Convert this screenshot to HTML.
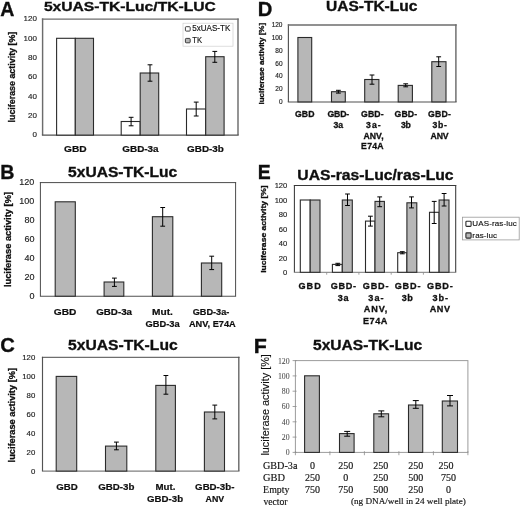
<!DOCTYPE html>
<html><head><meta charset="utf-8"><title>Figure</title>
<style>html,body{margin:0;padding:0;background:#fff}svg{display:block}</style></head>
<body>
<svg width="520" height="507" viewBox="0 0 520 507">
<defs><filter id="soft" x="0" y="0" width="520" height="507" filterUnits="userSpaceOnUse"><feGaussianBlur stdDeviation="0.42"/></filter></defs>
<rect width="520" height="507" fill="#fff"/>
<g filter="url(#soft)">
<rect width="520" height="507" fill="#fff"/>
<text x="0.31" y="16.10" font-family="'Liberation Sans', sans-serif" font-size="20.6" font-weight="bold" fill="#111" stroke="#111" stroke-width="0.35" textLength="14.10" lengthAdjust="spacingAndGlyphs">A</text>
<text x="43.92" y="11.30" font-family="'Liberation Sans', sans-serif" font-size="13.4" font-weight="bold" fill="#111" stroke="#111" stroke-width="0.35" textLength="171.91" lengthAdjust="spacingAndGlyphs">5xUAS-TK-Luc/TK-LUC</text>
<rect x="42.6" y="19.1" width="195.4" height="116.0" fill="#fff"/>
<path d="M42.6 135.1V18.38" fill="none" stroke="#6c6c6c" stroke-width="1.45"/>
<path d="M238.0 135.1V18.38" fill="none" stroke="#6c6c6c" stroke-width="1.45"/>
<path d="M41.88 19.1H238.72" fill="none" stroke="#6c6c6c" stroke-width="1.45"/>
<path d="M41.88 135.1H238.72" fill="none" stroke="#505050" stroke-width="1.05"/>
<text x="36.90" y="137.25" font-family="'Liberation Sans', sans-serif" font-size="8" font-weight="normal" fill="#222" stroke="#222" stroke-width="0.15" text-anchor="end">0</text>
<text x="36.90" y="117.92" font-family="'Liberation Sans', sans-serif" font-size="8" font-weight="normal" fill="#222" stroke="#222" stroke-width="0.15" text-anchor="end">20</text>
<text x="36.90" y="98.59" font-family="'Liberation Sans', sans-serif" font-size="8" font-weight="normal" fill="#222" stroke="#222" stroke-width="0.15" text-anchor="end">40</text>
<text x="36.90" y="79.25" font-family="'Liberation Sans', sans-serif" font-size="8" font-weight="normal" fill="#222" stroke="#222" stroke-width="0.15" text-anchor="end">60</text>
<text x="36.90" y="59.92" font-family="'Liberation Sans', sans-serif" font-size="8" font-weight="normal" fill="#222" stroke="#222" stroke-width="0.15" text-anchor="end">80</text>
<text x="36.90" y="40.59" font-family="'Liberation Sans', sans-serif" font-size="8" font-weight="normal" fill="#222" stroke="#222" stroke-width="0.15" text-anchor="end">100</text>
<text x="36.90" y="21.25" font-family="'Liberation Sans', sans-serif" font-size="8" font-weight="normal" fill="#222" stroke="#222" stroke-width="0.15" text-anchor="end">120</text>
<text transform="translate(15.0,122.5) rotate(-90)" x="0" y="0" font-family="'Liberation Sans', sans-serif" font-size="8.2" font-weight="bold" fill="#111" stroke="#111" stroke-width="0.3" textLength="90.8" lengthAdjust="spacingAndGlyphs">luciferase activity [%]</text>
<rect x="56.6" y="38.3" width="18.7" height="96.8" fill="#fff" stroke="#2b2b2b" stroke-width="1.1"/>
<rect x="75.3" y="38.3" width="18.2" height="96.8" fill="#b7b7b7" stroke="#2b2b2b" stroke-width="1.1"/>
<rect x="121.2" y="121.5" width="19.0" height="13.6" fill="#fff" stroke="#2b2b2b" stroke-width="1.1"/>
<rect x="140.2" y="73.0" width="18.5" height="62.1" fill="#b7b7b7" stroke="#2b2b2b" stroke-width="1.1"/>
<rect x="186.5" y="109.0" width="19.2" height="26.1" fill="#fff" stroke="#2b2b2b" stroke-width="1.1"/>
<rect x="205.7" y="56.7" width="18.4" height="78.4" fill="#b7b7b7" stroke="#2b2b2b" stroke-width="1.1"/>
<path d="M131.1 117.3V125.8M128.7 117.3H133.5M128.7 125.8H133.5" fill="none" stroke="#000" stroke-width="1.0"/>
<path d="M150.0 64.8V81.2M147.6 64.8H152.4M147.6 81.2H152.4" fill="none" stroke="#000" stroke-width="1.0"/>
<path d="M196.2 102.1V116.0M193.8 102.1H198.6M193.8 116.0H198.6" fill="none" stroke="#000" stroke-width="1.0"/>
<path d="M214.8 51.4V62.3M212.4 51.4H217.2M212.4 62.3H217.2" fill="none" stroke="#000" stroke-width="1.0"/>
<text x="64.08" y="152.00" font-family="'Liberation Sans', sans-serif" font-size="9.6" font-weight="bold" fill="#111" stroke="#111" stroke-width="0.22" textLength="22.54" lengthAdjust="spacingAndGlyphs">GBD</text>
<text x="122.39" y="152.00" font-family="'Liberation Sans', sans-serif" font-size="9.6" font-weight="bold" fill="#111" stroke="#111" stroke-width="0.22" textLength="36.24" lengthAdjust="spacingAndGlyphs">GBD-3a</text>
<text x="187.10" y="152.00" font-family="'Liberation Sans', sans-serif" font-size="9.6" font-weight="bold" fill="#111" stroke="#111" stroke-width="0.22" textLength="36.71" lengthAdjust="spacingAndGlyphs">GBD-3b</text>
<rect x="183.0" y="23.2" width="50.0" height="23.0" fill="#fff" stroke="#cfcfcf" stroke-width="0.7"/>
<rect x="185.4" y="26.7" width="4.8" height="4.4" rx="0.8" fill="#fff" stroke="#2b2b2b" stroke-width="0.9"/>
<rect x="185.4" y="38.4" width="4.8" height="4.4" rx="0.8" fill="#b7b7b7" stroke="#2b2b2b" stroke-width="0.9"/>
<text x="192.18" y="30.92" font-family="'Liberation Sans', sans-serif" font-size="8.5" font-weight="normal" fill="#111" stroke="#111" stroke-width="0.15" textLength="38.11" lengthAdjust="spacingAndGlyphs">5xUAS-TK</text>
<text x="192.33" y="42.72" font-family="'Liberation Sans', sans-serif" font-size="8.5" font-weight="normal" fill="#111" stroke="#111" stroke-width="0.15" textLength="9.76" lengthAdjust="spacingAndGlyphs">TK</text>
<text x="0.28" y="179.40" font-family="'Liberation Sans', sans-serif" font-size="20.8" font-weight="bold" fill="#111" stroke="#111" stroke-width="0.35" textLength="14.21" lengthAdjust="spacingAndGlyphs">B</text>
<text x="68.12" y="176.90" font-family="'Liberation Sans', sans-serif" font-size="14.6" font-weight="bold" fill="#111" stroke="#111" stroke-width="0.35" textLength="109.14" lengthAdjust="spacingAndGlyphs">5xUAS-TK-Luc</text>
<rect x="40.4" y="182.6" width="195.2" height="113.6" fill="#fff"/>
<path d="M40.4 296.2V182.10" fill="none" stroke="#4a4a4a" stroke-width="1.0"/>
<path d="M235.6 296.2V182.10" fill="none" stroke="#4a4a4a" stroke-width="1.0"/>
<path d="M39.90 182.6H236.10" fill="none" stroke="#4a4a4a" stroke-width="1.0"/>
<path d="M39.90 296.2H236.10" fill="none" stroke="#505050" stroke-width="1.05"/>
<text x="34.40" y="298.50" font-family="'Liberation Sans', sans-serif" font-size="9" font-weight="normal" fill="#222" stroke="#222" stroke-width="0.15" text-anchor="end">0</text>
<text x="34.40" y="279.56" font-family="'Liberation Sans', sans-serif" font-size="9" font-weight="normal" fill="#222" stroke="#222" stroke-width="0.15" text-anchor="end">20</text>
<text x="34.40" y="260.63" font-family="'Liberation Sans', sans-serif" font-size="9" font-weight="normal" fill="#222" stroke="#222" stroke-width="0.15" text-anchor="end">40</text>
<text x="34.40" y="241.70" font-family="'Liberation Sans', sans-serif" font-size="9" font-weight="normal" fill="#222" stroke="#222" stroke-width="0.15" text-anchor="end">60</text>
<text x="34.40" y="222.76" font-family="'Liberation Sans', sans-serif" font-size="9" font-weight="normal" fill="#222" stroke="#222" stroke-width="0.15" text-anchor="end">80</text>
<text x="34.40" y="203.83" font-family="'Liberation Sans', sans-serif" font-size="9" font-weight="normal" fill="#222" stroke="#222" stroke-width="0.15" text-anchor="end">100</text>
<text x="34.40" y="184.90" font-family="'Liberation Sans', sans-serif" font-size="9" font-weight="normal" fill="#222" stroke="#222" stroke-width="0.15" text-anchor="end">120</text>
<text transform="translate(10.5,287.1) rotate(-90)" x="0" y="0" font-family="'Liberation Sans', sans-serif" font-size="8.4" font-weight="bold" fill="#111" stroke="#111" stroke-width="0.3" textLength="95.1" lengthAdjust="spacingAndGlyphs">luciferase activity [%]</text>
<rect x="55.2" y="201.8" width="20.1" height="94.4" fill="#b7b7b7" stroke="#2b2b2b" stroke-width="1.1"/>
<rect x="104.1" y="282.0" width="19.7" height="14.2" fill="#b7b7b7" stroke="#2b2b2b" stroke-width="1.1"/>
<rect x="152.4" y="216.7" width="20.4" height="79.5" fill="#b7b7b7" stroke="#2b2b2b" stroke-width="1.1"/>
<rect x="201.4" y="263.0" width="20.3" height="33.2" fill="#b7b7b7" stroke="#2b2b2b" stroke-width="1.1"/>
<path d="M114.4 278.1V286.4M112.0 278.1H116.8M112.0 286.4H116.8" fill="none" stroke="#000" stroke-width="1.0"/>
<path d="M162.7 207.5V226.2M160.3 207.5H165.1M160.3 226.2H165.1" fill="none" stroke="#000" stroke-width="1.0"/>
<path d="M211.7 256.2V269.6M209.3 256.2H214.1M209.3 269.6H214.1" fill="none" stroke="#000" stroke-width="1.0"/>
<text x="53.78" y="314.50" font-family="'Liberation Sans', sans-serif" font-size="9.3" font-weight="bold" fill="#111" stroke="#111" stroke-width="0.22" textLength="22.54" lengthAdjust="spacingAndGlyphs">GBD</text>
<text x="96.20" y="314.50" font-family="'Liberation Sans', sans-serif" font-size="9.3" font-weight="bold" fill="#111" stroke="#111" stroke-width="0.22" textLength="35.84" lengthAdjust="spacingAndGlyphs">GBD-3a</text>
<text x="152.12" y="314.50" font-family="'Liberation Sans', sans-serif" font-size="9.3" font-weight="bold" fill="#111" stroke="#111" stroke-width="0.22" textLength="20.77" lengthAdjust="spacingAndGlyphs">Mut.</text>
<text x="145.52" y="327.00" font-family="'Liberation Sans', sans-serif" font-size="9.3" font-weight="bold" fill="#111" stroke="#111" stroke-width="0.22" textLength="34.12" lengthAdjust="spacingAndGlyphs">GBD-3a</text>
<text x="192.72" y="314.50" font-family="'Liberation Sans', sans-serif" font-size="9.3" font-weight="bold" fill="#111" stroke="#111" stroke-width="0.22" textLength="36.64" lengthAdjust="spacingAndGlyphs">GBD-3a-</text>
<text x="188.97" y="327.00" font-family="'Liberation Sans', sans-serif" font-size="9.3" font-weight="bold" fill="#111" stroke="#111" stroke-width="0.22" textLength="46.76" lengthAdjust="spacingAndGlyphs">ANV, E74A</text>
<text x="0.17" y="352.00" font-family="'Liberation Sans', sans-serif" font-size="20.8" font-weight="bold" fill="#111" stroke="#111" stroke-width="0.35" textLength="14.58" lengthAdjust="spacingAndGlyphs">C</text>
<text x="68.12" y="350.00" font-family="'Liberation Sans', sans-serif" font-size="15.3" font-weight="bold" fill="#111" stroke="#111" stroke-width="0.35" textLength="109.54" lengthAdjust="spacingAndGlyphs">5xUAS-TK-Luc</text>
<rect x="42.5" y="357.3" width="196.3" height="113.8" fill="#fff"/>
<path d="M42.5 471.1V356.80" fill="none" stroke="#525252" stroke-width="1.15"/>
<path d="M238.8 471.1V356.80" fill="none" stroke="#6c6c6c" stroke-width="1.45"/>
<path d="M41.92 357.3H239.53" fill="none" stroke="#4a4a4a" stroke-width="1.0"/>
<path d="M41.92 471.1H239.53" fill="none" stroke="#5e5e5e" stroke-width="1.0"/>
<text x="35.30" y="473.88" font-family="'Liberation Sans', sans-serif" font-size="7.8" font-weight="normal" fill="#222" stroke="#222" stroke-width="0.15" text-anchor="end">0</text>
<text x="35.30" y="454.85" font-family="'Liberation Sans', sans-serif" font-size="7.8" font-weight="normal" fill="#222" stroke="#222" stroke-width="0.15" text-anchor="end">20</text>
<text x="35.30" y="435.82" font-family="'Liberation Sans', sans-serif" font-size="7.8" font-weight="normal" fill="#222" stroke="#222" stroke-width="0.15" text-anchor="end">40</text>
<text x="35.30" y="416.78" font-family="'Liberation Sans', sans-serif" font-size="7.8" font-weight="normal" fill="#222" stroke="#222" stroke-width="0.15" text-anchor="end">60</text>
<text x="35.30" y="397.75" font-family="'Liberation Sans', sans-serif" font-size="7.8" font-weight="normal" fill="#222" stroke="#222" stroke-width="0.15" text-anchor="end">80</text>
<text x="35.30" y="378.72" font-family="'Liberation Sans', sans-serif" font-size="7.8" font-weight="normal" fill="#222" stroke="#222" stroke-width="0.15" text-anchor="end">100</text>
<text x="35.30" y="359.68" font-family="'Liberation Sans', sans-serif" font-size="7.8" font-weight="normal" fill="#222" stroke="#222" stroke-width="0.15" text-anchor="end">120</text>
<text transform="translate(14.8,462.4) rotate(-90)" x="0" y="0" font-family="'Liberation Sans', sans-serif" font-size="8.4" font-weight="bold" fill="#111" stroke="#111" stroke-width="0.3" textLength="94.4" lengthAdjust="spacingAndGlyphs">luciferase activity [%]</text>
<rect x="56.2" y="376.4" width="20.5" height="94.7" fill="#b7b7b7" stroke="#2b2b2b" stroke-width="1.1"/>
<rect x="105.5" y="446.1" width="21.3" height="25.0" fill="#b7b7b7" stroke="#2b2b2b" stroke-width="1.1"/>
<rect x="155.8" y="385.4" width="19.6" height="85.7" fill="#b7b7b7" stroke="#2b2b2b" stroke-width="1.1"/>
<rect x="204.4" y="412.0" width="20.1" height="59.1" fill="#b7b7b7" stroke="#2b2b2b" stroke-width="1.1"/>
<path d="M116.4 442.1V449.8M114.0 442.1H118.8M114.0 449.8H118.8" fill="none" stroke="#000" stroke-width="1.0"/>
<path d="M165.9 375.5V394.2M163.5 375.5H168.3M163.5 394.2H168.3" fill="none" stroke="#000" stroke-width="1.0"/>
<path d="M214.8 405.1V418.9M212.4 405.1H217.2M212.4 418.9H217.2" fill="none" stroke="#000" stroke-width="1.0"/>
<text x="56.20" y="489.67" font-family="'Liberation Sans', sans-serif" font-size="9.5" font-weight="bold" fill="#111" stroke="#111" stroke-width="0.22" textLength="21.50" lengthAdjust="spacingAndGlyphs">GBD</text>
<text x="98.20" y="489.67" font-family="'Liberation Sans', sans-serif" font-size="9.5" font-weight="bold" fill="#111" stroke="#111" stroke-width="0.22" textLength="36.30" lengthAdjust="spacingAndGlyphs">GBD-3b</text>
<text x="155.55" y="489.67" font-family="'Liberation Sans', sans-serif" font-size="9.5" font-weight="bold" fill="#111" stroke="#111" stroke-width="0.22" textLength="19.92" lengthAdjust="spacingAndGlyphs">Mut.</text>
<text x="147.10" y="502.07" font-family="'Liberation Sans', sans-serif" font-size="9.5" font-weight="bold" fill="#111" stroke="#111" stroke-width="0.22" textLength="35.99" lengthAdjust="spacingAndGlyphs">GBD-3b</text>
<text x="195.10" y="489.67" font-family="'Liberation Sans', sans-serif" font-size="9.5" font-weight="bold" fill="#111" stroke="#111" stroke-width="0.22" textLength="39.29" lengthAdjust="spacingAndGlyphs">GBD-3b-</text>
<text x="205.58" y="502.07" font-family="'Liberation Sans', sans-serif" font-size="9.5" font-weight="bold" fill="#111" stroke="#111" stroke-width="0.22" textLength="18.58" lengthAdjust="spacingAndGlyphs">ANV</text>
<text x="257.75" y="15.90" font-family="'Liberation Sans', sans-serif" font-size="20.8" font-weight="bold" fill="#111" stroke="#111" stroke-width="0.35" textLength="14.60" lengthAdjust="spacingAndGlyphs">D</text>
<text x="325.97" y="11.10" font-family="'Liberation Sans', sans-serif" font-size="14" font-weight="bold" fill="#111" stroke="#111" stroke-width="0.35" textLength="91.39" lengthAdjust="spacingAndGlyphs">UAS-TK-Luc</text>
<rect x="288.4" y="24.9" width="167.5" height="77.0" fill="#fff"/>
<path d="M288.4 101.9V24.17" fill="none" stroke="#525252" stroke-width="1.15"/>
<path d="M455.9 101.9V24.17" fill="none" stroke="#6c6c6c" stroke-width="1.45"/>
<path d="M287.82 24.9H456.62" fill="none" stroke="#6c6c6c" stroke-width="1.45"/>
<path d="M287.82 101.9H456.62" fill="none" stroke="#505050" stroke-width="1.05"/>
<text x="282.50" y="104.14" font-family="'Liberation Sans', sans-serif" font-size="6.5" font-weight="normal" fill="#222" stroke="#222" stroke-width="0.15" text-anchor="end">0</text>
<text x="282.50" y="91.30" font-family="'Liberation Sans', sans-serif" font-size="6.5" font-weight="normal" fill="#222" stroke="#222" stroke-width="0.15" text-anchor="end">20</text>
<text x="282.50" y="78.47" font-family="'Liberation Sans', sans-serif" font-size="6.5" font-weight="normal" fill="#222" stroke="#222" stroke-width="0.15" text-anchor="end">40</text>
<text x="282.50" y="65.64" font-family="'Liberation Sans', sans-serif" font-size="6.5" font-weight="normal" fill="#222" stroke="#222" stroke-width="0.15" text-anchor="end">60</text>
<text x="282.50" y="52.80" font-family="'Liberation Sans', sans-serif" font-size="6.5" font-weight="normal" fill="#222" stroke="#222" stroke-width="0.15" text-anchor="end">80</text>
<text x="282.50" y="39.97" font-family="'Liberation Sans', sans-serif" font-size="6.5" font-weight="normal" fill="#222" stroke="#222" stroke-width="0.15" text-anchor="end">100</text>
<text x="282.50" y="27.14" font-family="'Liberation Sans', sans-serif" font-size="6.5" font-weight="normal" fill="#222" stroke="#222" stroke-width="0.15" text-anchor="end">120</text>
<text transform="translate(263.5,104.5) rotate(-90)" x="0" y="0" font-family="'Liberation Sans', sans-serif" font-size="7.6" font-weight="bold" fill="#111" stroke="#111" stroke-width="0.3" textLength="81.6" lengthAdjust="spacingAndGlyphs">luciferase activity [%]</text>
<rect x="297.9" y="37.5" width="13.8" height="64.4" fill="#b7b7b7" stroke="#2b2b2b" stroke-width="1.1"/>
<rect x="331.5" y="91.7" width="13.8" height="10.2" fill="#b7b7b7" stroke="#2b2b2b" stroke-width="1.1"/>
<rect x="364.7" y="79.5" width="14.2" height="22.4" fill="#b7b7b7" stroke="#2b2b2b" stroke-width="1.1"/>
<rect x="398.2" y="85.4" width="14.2" height="16.5" fill="#b7b7b7" stroke="#2b2b2b" stroke-width="1.1"/>
<rect x="431.8" y="61.7" width="14.2" height="40.2" fill="#b7b7b7" stroke="#2b2b2b" stroke-width="1.1"/>
<path d="M338.4 90.3V93.1M336.0 90.3H340.8M336.0 93.1H340.8" fill="none" stroke="#000" stroke-width="1.0"/>
<path d="M372.0 75.0V84.2M369.6 75.0H374.4M369.6 84.2H374.4" fill="none" stroke="#000" stroke-width="1.0"/>
<path d="M405.7 83.8V86.8M403.3 83.8H408.1M403.3 86.8H408.1" fill="none" stroke="#000" stroke-width="1.0"/>
<path d="M438.7 56.8V66.5M436.3 56.8H441.1M436.3 66.5H441.1" fill="none" stroke="#000" stroke-width="1.0"/>
<text x="295.04" y="117.39" font-family="'Liberation Sans', sans-serif" font-size="8.7" font-weight="bold" fill="#111" stroke="#111" stroke-width="0.3" letter-spacing="0.04">GBD</text>
<text x="327.54" y="117.39" font-family="'Liberation Sans', sans-serif" font-size="8.7" font-weight="bold" fill="#111" stroke="#111" stroke-width="0.3" letter-spacing="-0.17">GBD-</text>
<text x="333.60" y="127.89" font-family="'Liberation Sans', sans-serif" font-size="8.7" font-weight="bold" fill="#111" stroke="#111" stroke-width="0.3" letter-spacing="-0.23">3a</text>
<text x="360.94" y="117.39" font-family="'Liberation Sans', sans-serif" font-size="8.7" font-weight="bold" fill="#111" stroke="#111" stroke-width="0.3" letter-spacing="0.19">GBD-</text>
<text x="366.00" y="127.89" font-family="'Liberation Sans', sans-serif" font-size="8.7" font-weight="bold" fill="#111" stroke="#111" stroke-width="0.3" letter-spacing="1.09">3a-</text>
<text x="363.48" y="138.59" font-family="'Liberation Sans', sans-serif" font-size="8.7" font-weight="bold" fill="#111" stroke="#111" stroke-width="0.3" letter-spacing="0.04">ANV,</text>
<text x="361.12" y="149.39" font-family="'Liberation Sans', sans-serif" font-size="8.7" font-weight="bold" fill="#111" stroke="#111" stroke-width="0.3" letter-spacing="0.25">E74A</text>
<text x="394.44" y="117.39" font-family="'Liberation Sans', sans-serif" font-size="8.7" font-weight="bold" fill="#111" stroke="#111" stroke-width="0.3" letter-spacing="0.19">GBD-</text>
<text x="400.90" y="127.89" font-family="'Liberation Sans', sans-serif" font-size="8.7" font-weight="bold" fill="#111" stroke="#111" stroke-width="0.3" letter-spacing="-0.30">3b</text>
<text x="427.94" y="117.39" font-family="'Liberation Sans', sans-serif" font-size="8.7" font-weight="bold" fill="#111" stroke="#111" stroke-width="0.3" letter-spacing="0.26">GBD-</text>
<text x="432.60" y="127.89" font-family="'Liberation Sans', sans-serif" font-size="8.7" font-weight="bold" fill="#111" stroke="#111" stroke-width="0.3" letter-spacing="0.65">3b-</text>
<text x="430.58" y="138.59" font-family="'Liberation Sans', sans-serif" font-size="8.7" font-weight="bold" fill="#111" stroke="#111" stroke-width="0.3" letter-spacing="-0.15">ANV</text>
<text x="257.80" y="179.20" font-family="'Liberation Sans', sans-serif" font-size="21" font-weight="bold" fill="#111" stroke="#111" stroke-width="0.35" textLength="12.96" lengthAdjust="spacingAndGlyphs">E</text>
<text x="297.36" y="180.40" font-family="'Liberation Sans', sans-serif" font-size="14.9" font-weight="bold" fill="#111" stroke="#111" stroke-width="0.35" textLength="156.20" lengthAdjust="spacingAndGlyphs">UAS-ras-Luc/ras-Luc</text>
<rect x="294.4" y="185.4" width="161.3" height="86.9" fill="#fff"/>
<path d="M294.4 272.3V184.88" fill="none" stroke="#383838" stroke-width="1.05"/>
<path d="M455.7 272.3V184.88" fill="none" stroke="#383838" stroke-width="1.05"/>
<path d="M293.88 185.4H456.22" fill="none" stroke="#383838" stroke-width="1.05"/>
<path d="M293.88 272.3H456.22" fill="none" stroke="#7a7a7a" stroke-width="1.0"/>
<path d="M326.7 272.3v2.4M358.9 272.3v2.4M391.2 272.3v2.4M423.4 272.3v2.4" fill="none" stroke="#8a8a8a" stroke-width="0.8"/>
<text x="287.30" y="275.31" font-family="'Liberation Sans', sans-serif" font-size="7.6" font-weight="normal" fill="#222" stroke="#222" stroke-width="0.15" text-anchor="end">0</text>
<text x="287.30" y="260.83" font-family="'Liberation Sans', sans-serif" font-size="7.6" font-weight="normal" fill="#222" stroke="#222" stroke-width="0.15" text-anchor="end">20</text>
<text x="287.30" y="246.35" font-family="'Liberation Sans', sans-serif" font-size="7.6" font-weight="normal" fill="#222" stroke="#222" stroke-width="0.15" text-anchor="end">40</text>
<text x="287.30" y="231.86" font-family="'Liberation Sans', sans-serif" font-size="7.6" font-weight="normal" fill="#222" stroke="#222" stroke-width="0.15" text-anchor="end">60</text>
<text x="287.30" y="217.38" font-family="'Liberation Sans', sans-serif" font-size="7.6" font-weight="normal" fill="#222" stroke="#222" stroke-width="0.15" text-anchor="end">80</text>
<text x="287.30" y="202.90" font-family="'Liberation Sans', sans-serif" font-size="7.6" font-weight="normal" fill="#222" stroke="#222" stroke-width="0.15" text-anchor="end">100</text>
<text x="287.30" y="188.41" font-family="'Liberation Sans', sans-serif" font-size="7.6" font-weight="normal" fill="#222" stroke="#222" stroke-width="0.15" text-anchor="end">120</text>
<text transform="translate(266.0,272.8) rotate(-90)" x="0" y="0" font-family="'Liberation Sans', sans-serif" font-size="7.9" font-weight="bold" fill="#111" stroke="#111" stroke-width="0.3" textLength="87.5" lengthAdjust="spacingAndGlyphs">luciferase activity [%]</text>
<rect x="300.3" y="200.0" width="9.9" height="72.3" fill="#fff" stroke="#2b2b2b" stroke-width="1.1"/>
<rect x="310.2" y="200.0" width="9.8" height="72.3" fill="#b7b7b7" stroke="#2b2b2b" stroke-width="1.1"/>
<rect x="332.4" y="264.4" width="9.9" height="7.9" fill="#fff" stroke="#2b2b2b" stroke-width="1.1"/>
<rect x="342.3" y="200.0" width="10.0" height="72.3" fill="#b7b7b7" stroke="#2b2b2b" stroke-width="1.1"/>
<rect x="365.5" y="221.1" width="9.5" height="51.2" fill="#fff" stroke="#2b2b2b" stroke-width="1.1"/>
<rect x="375.0" y="201.4" width="9.4" height="70.9" fill="#b7b7b7" stroke="#2b2b2b" stroke-width="1.1"/>
<rect x="397.7" y="252.7" width="9.2" height="19.6" fill="#fff" stroke="#2b2b2b" stroke-width="1.1"/>
<rect x="406.9" y="202.8" width="9.9" height="69.5" fill="#b7b7b7" stroke="#2b2b2b" stroke-width="1.1"/>
<rect x="429.5" y="212.3" width="9.6" height="60.0" fill="#fff" stroke="#2b2b2b" stroke-width="1.1"/>
<rect x="439.1" y="200.0" width="9.9" height="72.3" fill="#b7b7b7" stroke="#2b2b2b" stroke-width="1.1"/>
<path d="M337.8 263.3V265.6M335.4 263.3H340.2M335.4 265.6H340.2" fill="none" stroke="#000" stroke-width="1.0"/>
<path d="M347.5 194.0V205.5M345.1 194.0H349.9M345.1 205.5H349.9" fill="none" stroke="#000" stroke-width="1.0"/>
<path d="M370.4 216.2V226.1M368.0 216.2H372.8M368.0 226.1H372.8" fill="none" stroke="#000" stroke-width="1.0"/>
<path d="M379.7 196.9V206.7M377.3 196.9H382.1M377.3 206.7H382.1" fill="none" stroke="#000" stroke-width="1.0"/>
<path d="M402.3 251.7V253.8M399.9 251.7H404.7M399.9 253.8H404.7" fill="none" stroke="#000" stroke-width="1.0"/>
<path d="M411.5 196.9V207.9M409.1 196.9H413.9M409.1 207.9H413.9" fill="none" stroke="#000" stroke-width="1.0"/>
<path d="M434.2 201.4V223.5M431.8 201.4H436.6M431.8 223.5H436.6" fill="none" stroke="#000" stroke-width="1.0"/>
<path d="M444.1 193.5V206.0M441.7 193.5H446.5M441.7 206.0H446.5" fill="none" stroke="#000" stroke-width="1.0"/>
<text x="298.53" y="289.23" font-family="'Liberation Sans', sans-serif" font-size="9.1" font-weight="bold" fill="#111" stroke="#111" stroke-width="0.3" letter-spacing="1.02">GBD</text>
<text x="330.63" y="289.23" font-family="'Liberation Sans', sans-serif" font-size="9.1" font-weight="bold" fill="#111" stroke="#111" stroke-width="0.3" letter-spacing="0.70">GBD-</text>
<text x="337.69" y="300.93" font-family="'Liberation Sans', sans-serif" font-size="9.1" font-weight="bold" fill="#111" stroke="#111" stroke-width="0.3" letter-spacing="0.83">3a</text>
<text x="362.73" y="289.23" font-family="'Liberation Sans', sans-serif" font-size="9.1" font-weight="bold" fill="#111" stroke="#111" stroke-width="0.3" letter-spacing="0.86">GBD-</text>
<text x="368.29" y="300.93" font-family="'Liberation Sans', sans-serif" font-size="9.1" font-weight="bold" fill="#111" stroke="#111" stroke-width="0.3" letter-spacing="1.11">3a-</text>
<text x="363.67" y="312.13" font-family="'Liberation Sans', sans-serif" font-size="9.1" font-weight="bold" fill="#111" stroke="#111" stroke-width="0.3" letter-spacing="0.93">ANV,</text>
<text x="362.89" y="323.63" font-family="'Liberation Sans', sans-serif" font-size="9.1" font-weight="bold" fill="#111" stroke="#111" stroke-width="0.3" letter-spacing="0.60">E74A</text>
<text x="394.73" y="289.23" font-family="'Liberation Sans', sans-serif" font-size="9.1" font-weight="bold" fill="#111" stroke="#111" stroke-width="0.3" letter-spacing="0.83">GBD-</text>
<text x="401.79" y="300.93" font-family="'Liberation Sans', sans-serif" font-size="9.1" font-weight="bold" fill="#111" stroke="#111" stroke-width="0.3" letter-spacing="0.36">3b</text>
<text x="426.93" y="289.23" font-family="'Liberation Sans', sans-serif" font-size="9.1" font-weight="bold" fill="#111" stroke="#111" stroke-width="0.3" letter-spacing="0.90">GBD-</text>
<text x="432.59" y="300.93" font-family="'Liberation Sans', sans-serif" font-size="9.1" font-weight="bold" fill="#111" stroke="#111" stroke-width="0.3" letter-spacing="0.86">3b-</text>
<text x="429.67" y="312.13" font-family="'Liberation Sans', sans-serif" font-size="9.1" font-weight="bold" fill="#111" stroke="#111" stroke-width="0.3" letter-spacing="0.59">ANV</text>
<rect x="462.4" y="217.2" width="56.8" height="22.7" fill="#fff" stroke="#9a9a9a" stroke-width="0.8"/>
<rect x="465.9" y="221.2" width="5.2" height="5.2" rx="0.8" fill="#fff" stroke="#2b2b2b" stroke-width="1.1"/>
<rect x="465.9" y="232.9" width="5.2" height="5.2" rx="0.8" fill="#b7b7b7" stroke="#2b2b2b" stroke-width="1.1"/>
<text x="472.28" y="226.05" font-family="'Liberation Sans', sans-serif" font-size="8" font-weight="normal" fill="#111" stroke="#111" stroke-width="0.15" letter-spacing="0.14">UAS-ras-luc</text>
<text x="472.37" y="238.05" font-family="'Liberation Sans', sans-serif" font-size="8" font-weight="normal" fill="#111" stroke="#111" stroke-width="0.15" letter-spacing="0.12">ras-luc</text>
<text x="253.66" y="352.50" font-family="'Liberation Sans', sans-serif" font-size="20.8" font-weight="bold" fill="#111" stroke="#111" stroke-width="0.35" textLength="13.12" lengthAdjust="spacingAndGlyphs">F</text>
<text x="313.02" y="350.00" font-family="'Liberation Sans', sans-serif" font-size="14.9" font-weight="bold" fill="#111" stroke="#111" stroke-width="0.35" textLength="109.14" lengthAdjust="spacingAndGlyphs">5xUAS-TK-Luc</text>
<rect x="295.4" y="360.6" width="172.5" height="91.8" fill="#fff" stroke="#9c9c9c" stroke-width="1.0"/>
<path d="M292.6 452.4H296.6M292.6 437.1H296.6M292.6 421.8H296.6M292.6 406.5H296.6M292.6 391.2H296.6M292.6 375.9H296.6M292.6 360.6H296.6M295.4 451.2V455.2M329.9 451.2V455.2M364.4 451.2V455.2M398.9 451.2V455.2M433.4 451.2V455.2M467.9 451.2V455.2" fill="none" stroke="#8a8a8a" stroke-width="0.8"/>
<text x="289.60" y="455.35" font-family="'Liberation Serif', serif" font-size="7.8" font-weight="normal" fill="#484848" stroke="#484848" stroke-width="0.05" text-anchor="end">0</text>
<text x="289.60" y="440.05" font-family="'Liberation Serif', serif" font-size="7.8" font-weight="normal" fill="#484848" stroke="#484848" stroke-width="0.05" text-anchor="end">20</text>
<text x="289.60" y="424.75" font-family="'Liberation Serif', serif" font-size="7.8" font-weight="normal" fill="#484848" stroke="#484848" stroke-width="0.05" text-anchor="end">40</text>
<text x="289.60" y="409.45" font-family="'Liberation Serif', serif" font-size="7.8" font-weight="normal" fill="#484848" stroke="#484848" stroke-width="0.05" text-anchor="end">60</text>
<text x="289.60" y="394.15" font-family="'Liberation Serif', serif" font-size="7.8" font-weight="normal" fill="#484848" stroke="#484848" stroke-width="0.05" text-anchor="end">80</text>
<text x="289.60" y="378.85" font-family="'Liberation Serif', serif" font-size="7.8" font-weight="normal" fill="#484848" stroke="#484848" stroke-width="0.05" text-anchor="end">100</text>
<text x="289.60" y="363.55" font-family="'Liberation Serif', serif" font-size="7.8" font-weight="normal" fill="#484848" stroke="#484848" stroke-width="0.05" text-anchor="end">120</text>
<text transform="translate(269.4,455.6) rotate(-90)" x="0" y="0" font-family="'Liberation Sans', sans-serif" font-size="10.2" font-weight="normal" fill="#111" stroke="#111" stroke-width="0.12" textLength="101.5" lengthAdjust="spacingAndGlyphs">luciferase activity [%]</text>
<rect x="304.6" y="375.8" width="14.8" height="76.6" fill="#b7b7b7" stroke="#2b2b2b" stroke-width="1.1"/>
<rect x="339.5" y="433.6" width="14.6" height="18.8" fill="#b7b7b7" stroke="#2b2b2b" stroke-width="1.1"/>
<rect x="373.8" y="413.8" width="14.8" height="38.6" fill="#b7b7b7" stroke="#2b2b2b" stroke-width="1.1"/>
<rect x="408.5" y="405.0" width="14.2" height="47.4" fill="#b7b7b7" stroke="#2b2b2b" stroke-width="1.1"/>
<rect x="442.3" y="401.0" width="15.2" height="51.4" fill="#b7b7b7" stroke="#2b2b2b" stroke-width="1.1"/>
<path d="M347.2 431.4V436.2M344.2 431.4H350.2M344.2 436.2H350.2" fill="none" stroke="#000" stroke-width="1.0"/>
<path d="M381.3 410.9V416.8M378.3 410.9H384.3M378.3 416.8H384.3" fill="none" stroke="#000" stroke-width="1.0"/>
<path d="M415.8 400.6V408.3M412.8 400.6H418.8M412.8 408.3H418.8" fill="none" stroke="#000" stroke-width="1.0"/>
<path d="M450.0 395.5V405.9M447.0 395.5H453.0M447.0 405.9H453.0" fill="none" stroke="#000" stroke-width="1.0"/>
<text x="262.98" y="469.20" font-family="'Liberation Serif', serif" font-size="10" font-weight="normal" fill="#111" stroke="#111" stroke-width="0.15" textLength="34.46" lengthAdjust="spacingAndGlyphs">GBD-3a</text>
<text x="262.97" y="481.00" font-family="'Liberation Serif', serif" font-size="10" font-weight="normal" fill="#111" stroke="#111" stroke-width="0.15" textLength="21.94" lengthAdjust="spacingAndGlyphs">GBD</text>
<text x="263.12" y="492.80" font-family="'Liberation Serif', serif" font-size="10" font-weight="normal" fill="#111" stroke="#111" stroke-width="0.15" textLength="26.32" lengthAdjust="spacingAndGlyphs">Empty</text>
<text x="263.40" y="504.70" font-family="'Liberation Serif', serif" font-size="10" font-weight="normal" fill="#111" stroke="#111" stroke-width="0.15" textLength="24.19" lengthAdjust="spacingAndGlyphs">vector</text>
<text x="312.60" y="469.20" font-family="'Liberation Serif', serif" font-size="10" font-weight="normal" fill="#111" stroke="#111" stroke-width="0.15" text-anchor="middle">0</text>
<text x="345.80" y="469.20" font-family="'Liberation Serif', serif" font-size="10" font-weight="normal" fill="#111" stroke="#111" stroke-width="0.15" text-anchor="middle">250</text>
<text x="380.80" y="469.20" font-family="'Liberation Serif', serif" font-size="10" font-weight="normal" fill="#111" stroke="#111" stroke-width="0.15" text-anchor="middle">250</text>
<text x="415.80" y="469.20" font-family="'Liberation Serif', serif" font-size="10" font-weight="normal" fill="#111" stroke="#111" stroke-width="0.15" text-anchor="middle">250</text>
<text x="445.90" y="469.20" font-family="'Liberation Serif', serif" font-size="10" font-weight="normal" fill="#111" stroke="#111" stroke-width="0.15" text-anchor="middle">250</text>
<text x="312.60" y="481.00" font-family="'Liberation Serif', serif" font-size="10" font-weight="normal" fill="#111" stroke="#111" stroke-width="0.15" text-anchor="middle">250</text>
<text x="345.80" y="481.00" font-family="'Liberation Serif', serif" font-size="10" font-weight="normal" fill="#111" stroke="#111" stroke-width="0.15" text-anchor="middle">0</text>
<text x="380.80" y="481.00" font-family="'Liberation Serif', serif" font-size="10" font-weight="normal" fill="#111" stroke="#111" stroke-width="0.15" text-anchor="middle">250</text>
<text x="415.80" y="481.00" font-family="'Liberation Serif', serif" font-size="10" font-weight="normal" fill="#111" stroke="#111" stroke-width="0.15" text-anchor="middle">500</text>
<text x="448.50" y="481.00" font-family="'Liberation Serif', serif" font-size="10" font-weight="normal" fill="#111" stroke="#111" stroke-width="0.15" text-anchor="middle">750</text>
<text x="312.60" y="492.80" font-family="'Liberation Serif', serif" font-size="10" font-weight="normal" fill="#111" stroke="#111" stroke-width="0.15" text-anchor="middle">750</text>
<text x="345.80" y="492.80" font-family="'Liberation Serif', serif" font-size="10" font-weight="normal" fill="#111" stroke="#111" stroke-width="0.15" text-anchor="middle">750</text>
<text x="380.80" y="492.80" font-family="'Liberation Serif', serif" font-size="10" font-weight="normal" fill="#111" stroke="#111" stroke-width="0.15" text-anchor="middle">500</text>
<text x="415.80" y="492.80" font-family="'Liberation Serif', serif" font-size="10" font-weight="normal" fill="#111" stroke="#111" stroke-width="0.15" text-anchor="middle">250</text>
<text x="448.40" y="492.80" font-family="'Liberation Serif', serif" font-size="10" font-weight="normal" fill="#111" stroke="#111" stroke-width="0.15" text-anchor="middle">0</text>
<text x="350.90" y="504.30" font-family="'Liberation Serif', serif" font-size="9" font-weight="normal" fill="#111" stroke="#111" stroke-width="0.15" textLength="114.91" lengthAdjust="spacingAndGlyphs">(ng DNA/well in 24 well plate)</text>
</g>
</svg>
</body></html>
